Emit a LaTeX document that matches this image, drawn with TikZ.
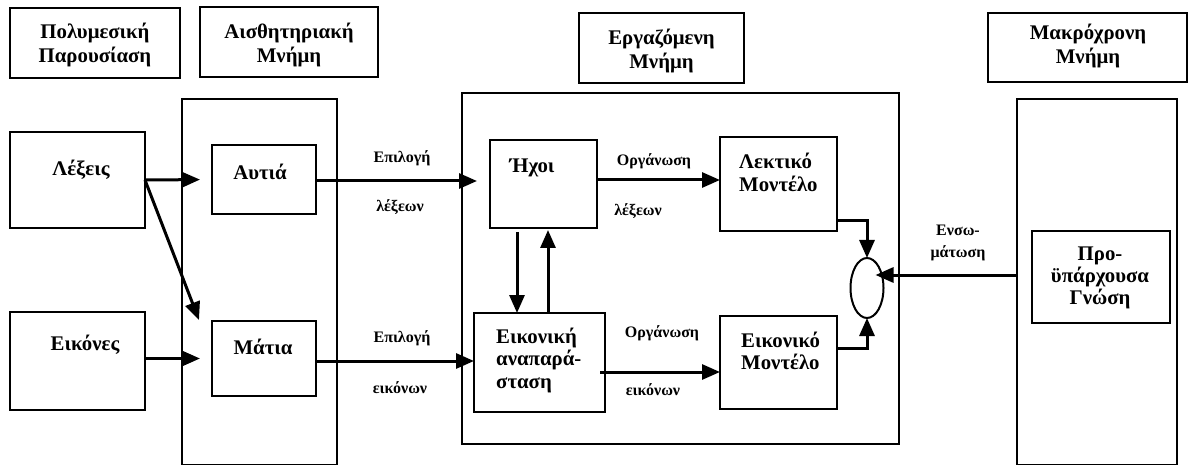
\documentclass[tikz,border=0pt]{standalone}
\usepackage{fontspec}
\setmainfont{Liberation Serif}
\usetikzlibrary{arrows.meta,shapes.geometric}
\begin{document}
\begin{tikzpicture}[x=1pt,y=-1pt,
  box/.style={draw, line width=2.6pt, rectangle, inner sep=0pt, outer sep=0pt},
  cont/.style={draw, line width=2.2pt, rectangle, inner sep=0pt, outer sep=0pt},
  head/.style={font=\fontsize{20.8}{24.5}\selectfont\bfseries, align=center, inner sep=0pt},
  txt/.style={font=\fontsize{20.8}{22}\selectfont\bfseries, align=center, inner sep=0pt},
  ltxt/.style={font=\fontsize{20.8}{22.5}\selectfont\bfseries, align=left, inner sep=0pt, anchor=west},
  lbl/.style={font=\fontsize{16}{22}\selectfont\bfseries, align=center, inner sep=0pt},
  arr/.style={line width=3pt, -{Triangle[length=18pt,width=15pt]}}
]
\useasboundingbox (0,0) rectangle (1189,465);
% header boxes
\node[box, minimum width=170pt, minimum height=70pt] (h1) at (95,43) {};
\node[box, minimum width=178pt, minimum height=70pt] (h2) at (289,42) {};
\node[box, minimum width=165pt, minimum height=70pt] (h3) at (661.5,48) {};
\node[box, minimum width=199pt, minimum height=69pt] (h4) at (1087.5,47.5) {};
\node[head] (th1) at (95,45) {Πολυμεσική\\Παρουσίαση};
\node[head] (th2) at (289,45) {Αισθητηριακή\\Μνήμη};
\node[head] (th3) at (661.5,51) {Εργαζόμενη\\Μνήμη};
\node[head] (th4) at (1088,46) {Μακρόχρονη\\Μνήμη};
% containers
\node[cont, minimum width=155pt, minimum height=366pt] (sm) at (259.5,282) {};
\node[cont, minimum width=437pt, minimum height=351pt] (wm) at (680.5,268.5) {};
\node[cont, minimum width=160pt, minimum height=366pt] (lm) at (1097,282) {};
% inner boxes
\node[box, minimum width=135pt, minimum height=96pt] (lex) at (77.5,180) {};
\node[box, minimum width=135pt, minimum height=98pt] (eik) at (77.5,361) {};
\node[box, minimum width=104pt, minimum height=69pt] (aut) at (264,179.5) {};
\node[box, minimum width=104pt, minimum height=75pt] (mat) at (264,358.5) {};
\node[box, minimum width=107pt, minimum height=88pt] (hxoi) at (543.5,184) {};
\node[box, minimum width=131pt, minimum height=99pt] (eikan) at (539.5,362.5) {};
\node[box, minimum width=117pt, minimum height=94pt] (lekm) at (778.5,184) {};
\node[box, minimum width=117pt, minimum height=93pt] (eikm) at (778.5,362.5) {};
\node[box, minimum width=138pt, minimum height=92pt] (gn) at (1101,277) {};
\node[draw, line width=2pt, ellipse, inner sep=0pt, outer sep=0pt, minimum width=33pt, minimum height=60pt] (ell) at (867,288) {};
% texts
\node[txt] (tlex) at (81,170) {Λέξεις};
\node[txt] (teik) at (85,345) {Εικόνες};
\node[txt] (taut) at (260,172) {Αυτιά};
\node[txt] (tmat) at (263,347) {Μάτια};
\node[txt] (thxoi) at (532,168) {Ήχοι};
\node[ltxt] (teikan) at (496,360) {Εικονική\\αναπαρά-\\σταση};
\node[ltxt] (tlekm) at (739,172.5) {Λεκτικό\\Μοντέλο};
\node[ltxt] (teikm) at (741,351) {Εικονικό\\Μοντέλο};
\node[txt] (tgn) at (1100,278) {Προ-\\ϋπάρχουσα\\Γνώση};
\node[lbl] (tens) at (958,243) {Ενσω-\\μάτωση};
% labels
\node[lbl] (l1) at (402,158) {Επιλογή};
\node[lbl] (l2) at (400,207) {λέξεων};
\node[lbl] (l3) at (402,338) {Επιλογή};
\node[lbl] (l4) at (400,388) {εικόνων};
\node[lbl] (l5) at (654,161) {Οργάνωση};
\node[lbl] (l6) at (638,211) {λέξεων};
\node[lbl] (l7) at (662,333) {Οργάνωση};
\node[lbl] (l8) at (653,390) {εικόνων};
% connectors
\coordinate (m1) at (199,320);
\draw[arr, shorten >=12pt] (lex.east) -- (aut.west);
\draw[arr] (lex.east) -- (m1);
\draw[arr, shorten >=12pt] (eik.east |- mat.west) -- (mat.west);
\draw[arr, shorten >=13pt] ([yshift=-1.5pt]aut.east) -- ([yshift=-1.5pt]aut.east -| hxoi.west);
\draw[arr] ([yshift=-2.5pt]mat.east) -- ([yshift=-2.5pt]mat.east -| eikan.west);
\draw[arr] ([yshift=4pt]hxoi.east) -- ([yshift=4pt]lekm.west);
\draw[arr] ([xshift=-5pt,yshift=-9.5pt]eikan.east) -- ([yshift=-9.5pt]eikm.west);
\draw[arr, shorten <=4pt] ([xshift=-26.5pt]hxoi.south) -- ([xshift=-26.5pt]hxoi.south |- eikan.north);
\draw[arr, shorten >=2pt] ([xshift=8.5pt]eikan.north) -- ([xshift=8.5pt]eikan.north |- hxoi.south);
\draw[arr] ([yshift=-37pt]lekm.east) -| (ell.north);
\draw[arr] ([yshift=14.5pt]eikm.east) -| (ell.south);
\draw[arr, shorten >=-8pt] ([yshift=7pt]lm.west) -- ([yshift=7pt]lm.west -| ell.east);
\end{tikzpicture}
\end{document}
